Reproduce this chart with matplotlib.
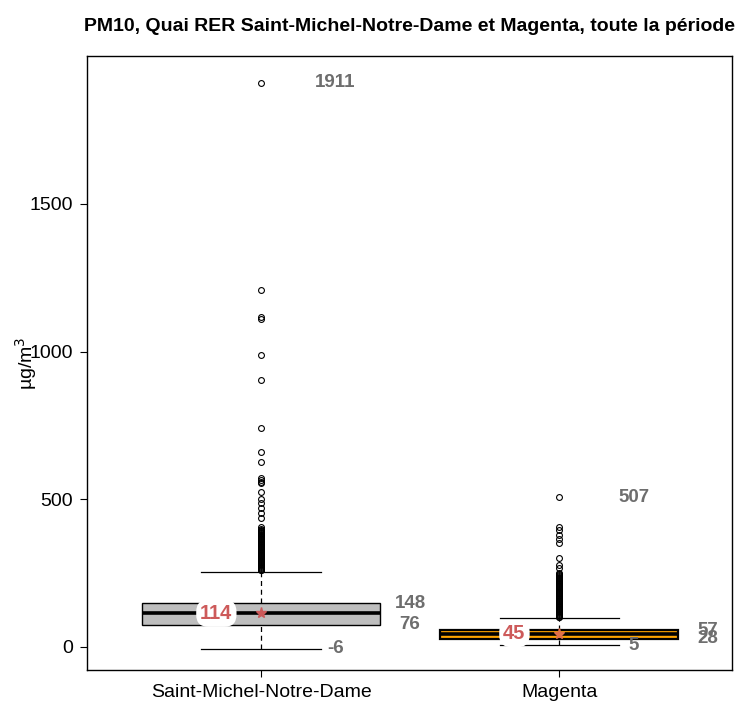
import matplotlib
matplotlib.use("Agg")
import matplotlib.pyplot as plt
from matplotlib.patches import Rectangle

plt.rcParams['font.family'] = ['Liberation Sans', 'DejaVu Sans']

# ---- data ----
stations = ["Saint-Michel-Notre-Dame", "Magenta"]
q1 = [76, 28]
median = [114, 45]
q3 = [148, 57]
whisk_lo = [-6, 5]
whisk_hi = [255, 98]
means = [114, 45]
maxima = [1911, 507]
box_colors = ["#BEBEBE", "#FFA500"]

outliers_smnd = [1911, 1209, 1118, 1110, 989, 904, 743, 659, 626,
                 571, 565, 560, 554, 526, 500, 486, 470, 453, 436, 407,
                 400, 397, 394, 391, 388, 385, 382, 379, 376, 373, 370,
                 367, 364, 361, 358, 355, 352, 349, 346, 343, 340, 337,
                 334, 331, 328, 325, 322, 319, 316, 313, 310, 307, 304,
                 301, 298, 295, 292, 289, 286, 283, 280, 277, 274, 271,
                 268, 265, 262, 259]
outliers_magenta = [507, 407, 396, 379, 365, 353, 300, 278, 266,
                    250, 247, 244, 241, 238, 235, 232, 229, 226, 223,
                    220, 217, 214, 211, 208, 205, 202, 199, 196, 193,
                    190, 187, 184, 181, 178, 175, 172, 169, 166, 163,
                    160, 157, 154, 151, 148, 145, 142, 139, 136, 133,
                    130, 127, 124, 121, 118, 115, 112, 109, 106, 103, 100]
outliers = [outliers_smnd, outliers_magenta]

yticks = [0, 500, 1000, 1500]
title = "PM10, Quai RER Saint-Michel-Notre-Dame et Magenta, toute la période"

# ---- figure ----
fig = plt.figure(figsize=(7.41, 7.02), dpi=100)
ax = fig.add_axes([0.1174, 0.0456, 0.9879 - 0.1174, 0.9207 - 0.0456])
ax.set_xlim(0.416, 2.58)
ax.set_ylim(-78, 2002)

label_gray = "#6E6E6E"
red = "#CD5A5A"
pos = [1, 2]
hw = 0.40   # box half width
cw = 0.20   # cap half width
lfs = 13.5

for i, p in enumerate(pos):
    # whiskers (dashed)
    ax.plot([p, p], [q3[i], whisk_hi[i]], color="black", lw=0.9, ls=(0, (4, 3)), zorder=2)
    ax.plot([p, p], [whisk_lo[i], q1[i]], color="black", lw=0.9, ls=(0, (4, 3)), zorder=2)
    # caps
    ax.plot([p - cw, p + cw], [whisk_hi[i]] * 2, color="black", lw=0.9, zorder=2)
    ax.plot([p - cw, p + cw], [whisk_lo[i]] * 2, color="black", lw=0.9, zorder=2)
    # box
    ax.add_patch(Rectangle((p - hw, q1[i]), 2 * hw, q3[i] - q1[i],
                           facecolor=box_colors[i], edgecolor="black",
                           lw=1.0 if i == 0 else 1.6, zorder=3))
    # median
    ax.plot([p - hw, p + hw], [median[i]] * 2, color="black", lw=2.6,
            solid_capstyle="butt", zorder=4)
    # outliers
    ax.plot([p] * len(outliers[i]), outliers[i], ls="none", marker="o",
            ms=4.2, mfc="none", mec="black", mew=0.8, zorder=4)
    # mean marker
    ax.plot([p], [means[i]], marker="*", ms=8, color=red if i == 0 else "#E0704A",
            ls="none", zorder=6)
    # labels
    ax.text(p - 0.15, median[i], str(median[i]), color=red, fontsize=14.5,
            fontweight="bold", ha="center", va="center", zorder=7,
            bbox=dict(boxstyle="round,pad=0.2,rounding_size=0.6",
                      fc="white", ec="none"))
    ax.text(p + 0.5, q3[i], str(q3[i]), color=label_gray, fontsize=lfs,
            fontweight="bold", ha="center", va="center", zorder=7)
    ax.text(p + 0.5, q1[i], str(q1[i]), color=label_gray, fontsize=lfs,
            fontweight="bold", ha="center", va="center", zorder=7)
    ax.text(p + 0.25, whisk_lo[i], str(whisk_lo[i]), color=label_gray, fontsize=lfs,
            fontweight="bold", ha="center", va="center", zorder=7)
    ax.text(p + 0.25, maxima[i], str(maxima[i]), color=label_gray, fontsize=lfs,
            fontweight="bold", ha="center", va="center", zorder=7)

ax.set_xticks(pos)
ax.set_xticklabels(stations, fontsize=14)
ax.set_yticks(yticks)
ax.set_yticklabels([str(t) for t in yticks], fontsize=14)
ax.tick_params(axis="both", length=5, width=0.8, color="black", pad=5)
for s in ax.spines.values():
    s.set_linewidth(1.0)
    s.set_color("black")

ax.set_ylabel("µg/m$^3$", fontsize=14)
ax.yaxis.set_label_coords(-0.074, 0.5)

fig.text(0.553, 0.962, title, ha="center", va="center", fontsize=14,
         fontweight="bold")

fig.savefig("out.png", dpi=100)
